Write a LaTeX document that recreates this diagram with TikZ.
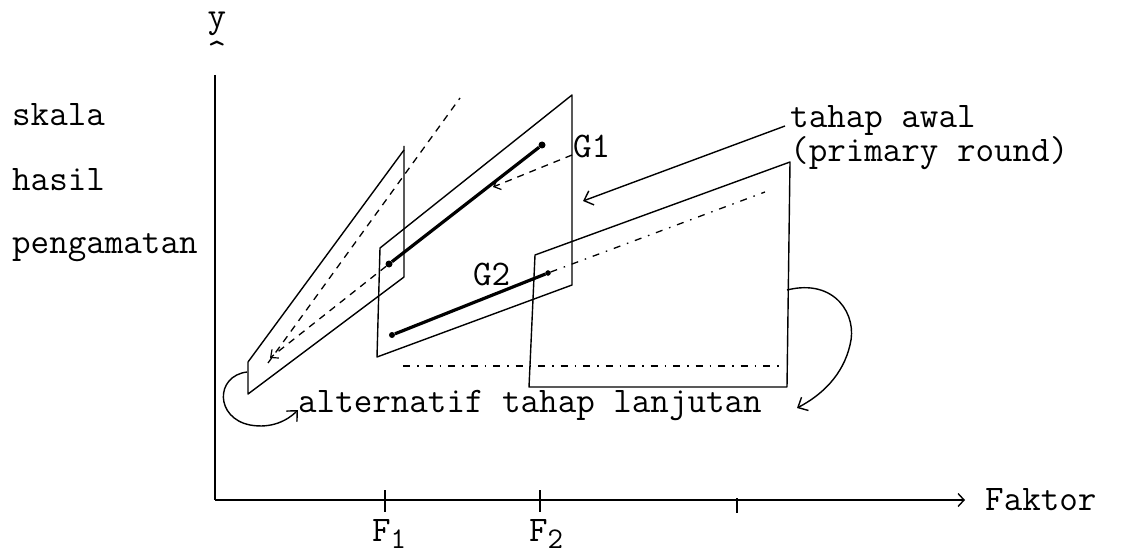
\documentclass[tikz,border=0pt]{standalone}
\usepackage{fontspec}
\usetikzlibrary{arrows.meta}
\tikzset{
  plane/.style={line width=1.4pt, line join=round},
  gline/.style={line width=3.2pt},
  ext/.style={line width=1.3pt, dash pattern=on 7pt off 6pt},
  extdot/.style={line width=1.3pt, dash pattern=on 7pt off 7pt on 1.5pt off 7pt},
  gdot/.style={circle, fill=black, inner sep=0pt, minimum size=7pt},
  lbl/.style={font=\ttfamily\fontsize{36}{38}\selectfont, inner sep=0pt},
  axisline/.style={line width=2.2pt},
  barb/.style={-{Straight Barb[length=8pt,width=15pt,line width=1.4pt]}, line width=1.4pt},
  tick/.style={line width=1.4pt}
}
\begin{document}
\begin{tikzpicture}[x=1pt,y=-1pt]
\useasboundingbox (0,0) rectangle (1121,556);

% axes
\coordinate (O) at (215,500);
\coordinate (ytop) at (215,75);
\coordinate (xend) at (965,500);
\draw[axisline] (ytop) -- (O);
\draw[axisline,-{Straight Barb[length=6pt,width=13pt,line width=1.4pt]}] (O) -- (xend);
\node[lbl,anchor=base] (ylab) at (217,28) {y};
\node[lbl,anchor=north] (ycaret) at (217,41) {\textasciicircum};
\node[lbl,anchor=base west] (faktor) at (985,510) {Faktor};

% ticks
\coordinate (t1a) at (385,490); \coordinate (t1b) at (385,512);
\coordinate (t2a) at (540,490); \coordinate (t2b) at (540,512);
\coordinate (t3a) at (737,498); \coordinate (t3b) at (737,513);
\draw[tick] (t1a) -- (t1b);
\draw[tick] (t2a) -- (t2b);
\draw[tick] (t3a) -- (t3b);
\node[lbl,anchor=base west] (F1) at (372,541) {F\raisebox{-7pt}{\fontsize{30}{32}\selectfont 1}};
\node[lbl,anchor=base west] (F2) at (529,541) {F\raisebox{-7pt}{\fontsize{30}{32}\selectfont 2}};

% left labels
\node[lbl,anchor=base west] (skala) at (12,126) {skala};
\node[lbl,anchor=base west] (hasil) at (12,191) {hasil};
\node[lbl,anchor=base west] (peng) at (12,253) {pengamatan};

% left panel
\coordinate (L1) at (248,362);
\coordinate (L2) at (404,150);
\coordinate (L3) at (404,277);
\coordinate (L4) at (248,394);
\draw[plane] (L1) -- (L2);
\draw[plane] (404,146) -- (L3) -- (L4) -- (L1);

% middle panel
\coordinate (M1) at (380,248);
\coordinate (M2) at (572,95);
\coordinate (M3) at (572,285);
\coordinate (M4) at (377,357);
\draw[plane] (M1) -- (M2) -- (M3) -- (M4) -- cycle;

% right panel
\coordinate (R1) at (535,255);
\coordinate (R2) at (790,162);
\coordinate (R3) at (787,387);
\coordinate (R4) at (529,387);
\draw[plane] (R1) -- (R2) -- (R3) -- (R4) -- cycle;

% dashed extensions
\coordinate (d1a) at (268,363);
\coordinate (d1b) at (460,98);
\draw[ext] (d1a) -- (d1b);
\coordinate (hz1) at (403,366);
\coordinate (hz2) at (783,366);
\draw[extdot] (hz1) -- (hz2);

% G1 and G2 lines
\node[gdot] (g1a) at (389,264) {};
\node[gdot] (g1b) at (542,145) {};
\node[gdot,minimum size=6pt] (g2a) at (392,335) {};
\node[circle,draw,fill=black,inner sep=0pt,minimum size=5pt] (g2b) at (548,273) {};
\draw[gline] (g1a) -- (g1b);
\draw[gline] (g2a) -- (g2b);
\node[lbl,anchor=base west] (G1) at (573,158) {G1};
\node[lbl,anchor=base west] (G2) at (473,285) {G2};

\coordinate (e1) at (270,358);
\draw[ext,-{Straight Barb[length=6pt,width=11pt,line width=1.2pt]}] (g1a) -- (e1);
\coordinate (e2a) at (572,155);
\coordinate (e2b) at (493,187);
\draw[ext,-{Straight Barb[length=6pt,width=11pt,line width=1.2pt]}] (e2a) -- (e2b);
\coordinate (e3) at (765,192);
\draw[extdot] (g2b) -- (e3);

% labels on the right
\node[lbl,anchor=base west] (awal) at (790,128) {tahap awal};
\node[lbl,anchor=base west] (prim) at (790,162) {(primary round)};
\coordinate (awalin) at (785,126);
\coordinate (awaltip) at (583,201);
\draw[barb] (awalin) -- (awaltip);

\node[lbl,anchor=base west] (alt) at (298,412) {alternatif tahap lanjutan};

% curved arrows
\coordinate (cr0) at (787,290);
\coordinate (cr1) at (797,408);
\draw[barb] (cr0) .. controls (835,278) and (858,315) .. (850,345)
  .. controls (843,375) and (822,395) .. (cr1);
\coordinate (cl0) at (247,372);
\coordinate (cl1) at (298,410);
\draw[barb] (cl0) .. controls (215,376) and (215,418) .. (250,425)
  .. controls (272,429) and (288,420) .. (cl1);
\end{tikzpicture}
\end{document}
